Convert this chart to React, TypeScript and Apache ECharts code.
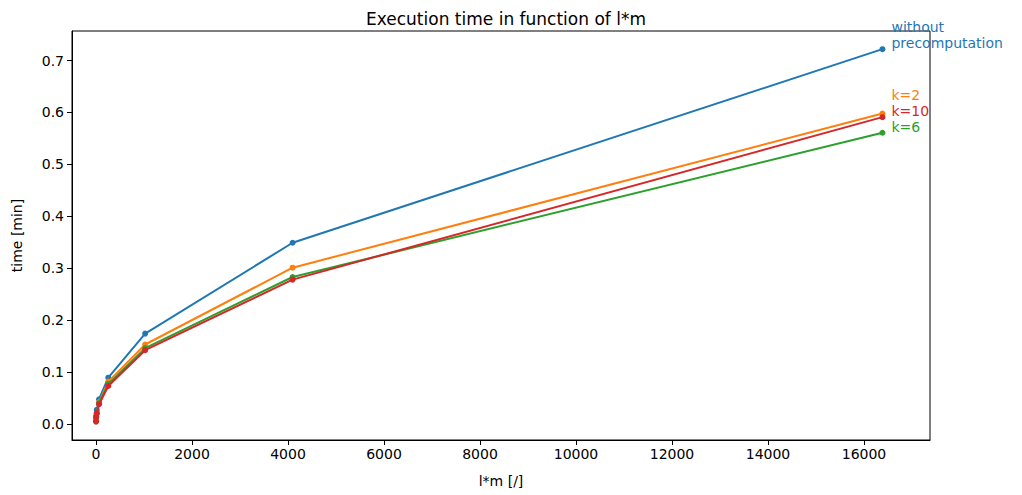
import React, { useEffect, useRef } from "react";
import * as echarts from "echarts";

const xValues = [1, 4, 16, 64, 256, 1024, 4096, 16384];
const withoutPre = [0.007, 0.015, 0.027, 0.0475, 0.089, 0.174, 0.349, 0.722];
const k2 = [0.006, 0.012, 0.02, 0.042, 0.0815, 0.153, 0.301, 0.598];
const k6 = [0.005, 0.012, 0.02, 0.04, 0.077, 0.146, 0.283, 0.561];
const k10 = [0.0045, 0.0135, 0.021, 0.038, 0.073, 0.142, 0.278, 0.591];

const seriesNames = ["without\nprecomputation", "k=2", "k=6", "k=10"];
const seriesColors = ["#1f77b4", "#ff7f0e", "#2ca02c", "#d62728"];
const labelShiftY = [2, -11, 2, 2];

const xTicks = [0, 2000, 4000, 6000, 8000, 10000, 12000, 14000, 16000];
const yTicks = [0, 0.1, 0.2, 0.3, 0.4, 0.5, 0.6, 0.7];

const FONT = "DejaVu Sans";

export default function App() {
  const ref = useRef<HTMLDivElement>(null);
  useEffect(() => {
    if (!ref.current) return;
    const chart = echarts.init(ref.current, undefined, { renderer: "svg" });
    const all = [withoutPre, k2, k6, k10];
    const series = all.map((vals, i) => ({
      type: "line",
      name: seriesNames[i],
      data: vals.map((v, j) => {
        const item: any = { value: [xValues[j], v] };
        if (j === vals.length - 1) {
          item.label = {
            show: true,
            position: "right",
            distance: 6,
            verticalAlign: "bottom",
            align: "left",
            offset: [0, labelShiftY[i]],
            formatter: seriesNames[i],
            color: seriesColors[i],
            fontFamily: FONT,
            fontSize: 14,
            lineHeight: 16,
          };
        }
        return item;
      }),
      symbol: "circle",
      symbolSize: 6,
      showSymbol: true,
      lineStyle: { color: seriesColors[i], width: 2 },
      itemStyle: { color: seriesColors[i] },
      z: 2 + i,
    }));
    chart.setOption({
      animation: false,
      backgroundColor: "#ffffff",
      textStyle: { fontFamily: FONT },
      title: {
        text: "Execution time in function of l*m",
        left: 501,
        textAlign: "center",
        top: 5,
        textStyle: { fontFamily: FONT, fontSize: 17, fontWeight: "normal", color: "#000" },
      },
      grid: {
        left: 72,
        right: 92,
        top: 31,
        bottom: 55,
        show: true,
        borderColor: "#000",
        borderWidth: 1,
        backgroundColor: "transparent",
      },
      xAxis: {
        type: "value",
        min: -500,
        max: 17375,
        name: "l*m [/]",
        nameLocation: "middle",
        nameGap: 34,
        nameTextStyle: { fontFamily: FONT, fontSize: 14, color: "#000" },
        axisLine: { show: true, onZero: false, lineStyle: { color: "#000", width: 1 } },
        axisTick: { show: true, inside: false, length: 5, customValues: xTicks, lineStyle: { color: "#000" } },
        axisLabel: {
          customValues: xTicks,
          fontFamily: FONT,
          fontSize: 14,
          color: "#000",
          margin: 7,
          formatter: (v: number) => String(v),
        },
        splitLine: { show: false },
      },
      yAxis: {
        type: "value",
        min: -0.031,
        max: 0.757,
        name: "time [min]",
        nameLocation: "middle",
        nameGap: 48,
        nameRotate: 90,
        nameTextStyle: { fontFamily: FONT, fontSize: 14, color: "#000" },
        axisLine: { show: true, onZero: false, lineStyle: { color: "#000", width: 1 } },
        axisTick: { show: true, inside: false, length: 5, customValues: yTicks, lineStyle: { color: "#000" } },
        axisLabel: {
          customValues: yTicks,
          fontFamily: FONT,
          fontSize: 14,
          color: "#000",
          margin: 8,
          formatter: (v: number) => v.toFixed(1),
        },
        splitLine: { show: false },
      },
      series,
    });
    return () => chart.dispose();
  }, []);
  return (
    <div
      ref={ref}
      style={{ position: "fixed", left: 0, top: 0, width: 1022, height: 495 }}
    />
  );
}
